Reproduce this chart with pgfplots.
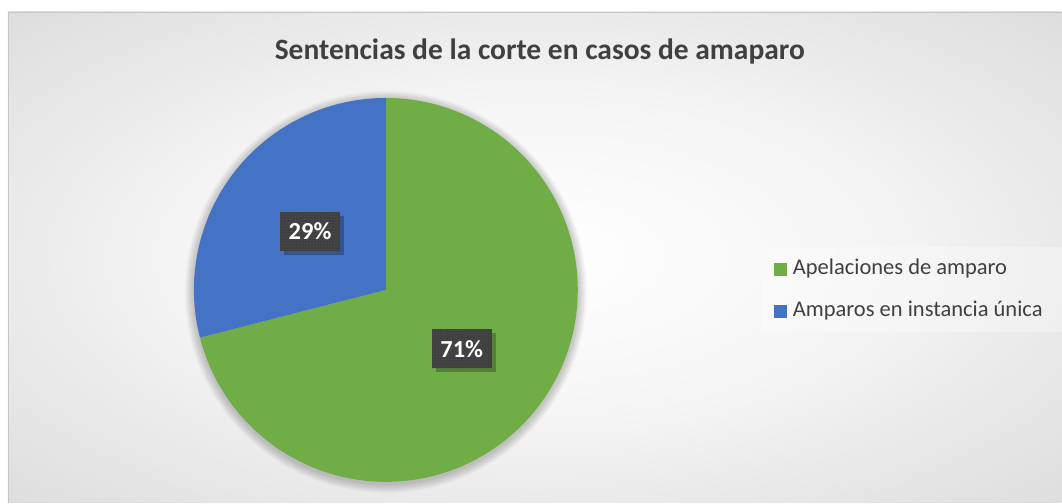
\documentclass[border=0pt]{standalone}
\usepackage{pgfplots}
\pgfplotsset{compat=1.18}
\usepackage{pgfplotstable}
\usepackage{fontspec}
\setmainfont{Carlito}
\usetikzlibrary{patterns,shadows}

\definecolor{apel}{HTML}{70AD47}
\definecolor{inst}{HTML}{4472C4}
\definecolor{txt}{HTML}{404040}
\definecolor{lab}{HTML}{404040}

\pgfdeclareradialshading{chartbg}{\pgfpoint{0bp}{0bp}}{%
  color(0bp)=(white); color(15bp)=(gray!7); color(50bp)=(gray!40); color(72bp)=(gray!50)}

% shares in percent, clockwise from 12 o'clock
\pgfplotstableread{
name share
Apelaciones 71
Instancia 29
}\piedata

\begin{document}
\begin{tikzpicture}
\pgfplotstablegetelem{0}{share}\of\piedata \let\sa\pgfplotsretval
\pgfplotstablegetelem{1}{share}\of\piedata \let\sb\pgfplotsretval
\pgfmathsetmacro\enda{90-3.6*\sa}
\pgfmathsetmacro\endb{\enda-3.6*\sb}
\pgfmathsetmacro\mida{90-1.8*\sa}
\pgfmathsetmacro\midb{\enda-1.8*\sb}
\def\cx{386}\def\cy{213}\def\rad{192}
\begin{axis}[
  scale only axis, width=1062bp, height=503bp,
  xmin=0, xmax=1062, ymin=0, ymax=503,
  hide axis, clip=false]
  % page and chart area
  \fill[white] (axis cs:0,0) rectangle (axis cs:1062,503);
  \shade[shading=chartbg] (axis cs:8,0) rectangle (axis cs:1062,491);
  \draw[gray!45, line width=0.8bp] (axis cs:8,0) -- (axis cs:8,491) -- (axis cs:1062,491);
  % soft shadow round the pie
  \pgfplotsinvokeforeach{1,...,9}{
    \fill[black, opacity=0.022] (axis cs:\cx,\cy-2) circle[radius=\rad bp+#1 bp];
  }
  % wedges
  \fill[apel] (axis cs:\cx,\cy) -- ++(90:\rad bp)
     arc[start angle=90, end angle=\enda, radius=\rad bp] -- cycle;
  \fill[inst] (axis cs:\cx,\cy) -- ++(\enda:\rad bp)
     arc[start angle=\enda, end angle=\endb, radius=\rad bp] -- cycle;
  % data labels
  \tikzset{lbl/.style={fill=lab, text=white, font=\fontsize{24.5bp}{26bp}\selectfont\bfseries,
     minimum width=60bp, minimum height=39bp, inner sep=0pt,
     drop shadow={shadow xshift=4bp, shadow yshift=-4bp, opacity=0.25, fill=black},
     postaction={pattern=dots, pattern color=lab!88!white}}}
  \node[lbl] at (axis cs:{\cx+96*cos(\mida)},{\cy+96*sin(\mida)}) {\sa\%};
  \node[lbl] at (axis cs:{\cx+96*cos(\midb)},{\cy+96*sin(\midb)}) {\sb\%};
  % title
  \node[anchor=base, text=txt, font=\fontsize{29.5bp}{31bp}\selectfont\bfseries]
     at (axis cs:540,443) {Sentencias de la corte en casos de amaparo};
  % legend
  \fill[white, opacity=0.3] (axis cs:762,171) rectangle (axis cs:1062,256);
  \fill[apel] (axis cs:774,227) rectangle (axis cs:787,240);
  \fill[inst] (axis cs:774,185) rectangle (axis cs:787,198);
  \node[anchor=base west, inner sep=0pt, text=txt, font=\fontsize{22.5bp}{24bp}\selectfont]
     at (axis cs:793,228) {Apelaciones de amparo};
  \node[anchor=base west, inner sep=0pt, text=txt, font=\fontsize{22.5bp}{24bp}\selectfont]
     at (axis cs:793,186) {Amparos en instancia única};
\end{axis}
\end{tikzpicture}
\end{document}
